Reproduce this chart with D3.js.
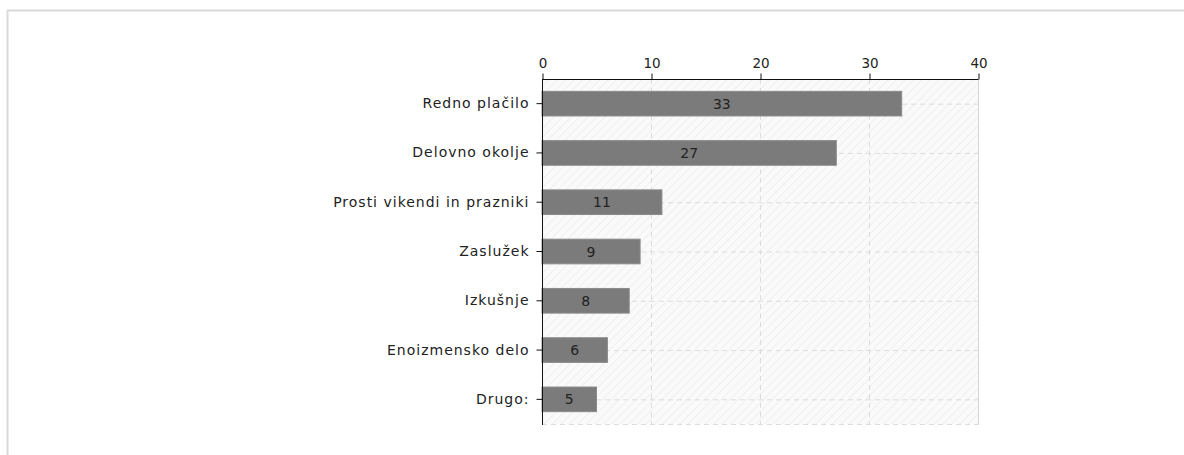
<!DOCTYPE html>
<html>
<head>
<meta charset="utf-8">
<script src="https://cdn.jsdelivr.net/npm/d3@7"></script>
<style>
  html, body { margin: 0; padding: 0; background: #fff; }
  svg { display: block; font-family: "DejaVu Sans", sans-serif; }
</style>
</head>
<body>
<svg id="chart" width="1184" height="455"></svg>
<script>
// Survey answers and counts
const categories = ["Redno plačilo", "Delovno okolje", "Prosti vikendi in prazniki", "Zaslužek", "Izkušnje", "Enoizmensko delo", "Drugo:"];
const counts = [33, 27, 11, 9, 8, 6, 5];
const tickValues = [0, 10, 20, 30, 40];

const svg = d3.select("#chart");
const W = 1184, H = 455;
const plot = { left: 542, right: 978, top: 79, bottom: 424 };

// Outer frame (top and left edges)
svg.append("path")
  .attr("d", `M7.5,${H} L7.5,10.5 L${W},10.5`)
  .attr("fill", "none").attr("stroke", "#d9d9d9").attr("stroke-width", 2);

const x = d3.scaleLinear().domain([0, 40]).range([plot.left, plot.right]);
const y = d3.scaleBand().domain(categories).range([plot.top, plot.bottom]).paddingInner(0.5).paddingOuter(0.25);

// Hatched plot background
const defs = svg.append("defs");
const pat = defs.append("pattern").attr("id", "hatch")
  .attr("patternUnits", "userSpaceOnUse").attr("width", 6).attr("height", 6)
  .attr("patternTransform", "rotate(45)");
pat.append("rect").attr("width", 6).attr("height", 6).attr("fill", "#fafafa");
pat.append("line").attr("x1", 0).attr("y1", 0).attr("x2", 0).attr("y2", 6)
  .attr("stroke", "#ececec").attr("stroke-width", 1.5);

svg.append("rect")
  .attr("x", plot.left).attr("y", plot.top)
  .attr("width", plot.right - plot.left).attr("height", plot.bottom - plot.top)
  .attr("fill", "url(#hatch)");

// Dashed grid
const grid = svg.append("g").attr("stroke", "#dcdcdc").attr("stroke-dasharray", "5,4").attr("fill", "none");
grid.selectAll(".gx").data(tickValues.filter(v => v > 0 && v < 40)).join("line")
  .attr("x1", d => x(d) + 0.5).attr("x2", d => x(d) + 0.5)
  .attr("y1", plot.top).attr("y2", plot.bottom);
grid.selectAll(".gy").data(categories).join("line")
  .attr("x1", plot.left).attr("x2", plot.right)
  .attr("y1", d => y(d) + y.bandwidth() / 2 + 0.5).attr("y2", d => y(d) + y.bandwidth() / 2 + 0.5);
grid.append("line")
  .attr("x1", plot.left).attr("x2", plot.right)
  .attr("y1", plot.bottom + 0.5).attr("y2", plot.bottom + 0.5);
svg.append("line")
  .attr("x1", plot.right + 0.5).attr("x2", plot.right + 0.5)
  .attr("y1", plot.top).attr("y2", plot.bottom + 1)
  .attr("stroke", "#d8d8d8");

// Bars
svg.append("g").selectAll("rect").data(counts).join("rect")
  .attr("x", x(0))
  .attr("y", (d, i) => y(categories[i]))
  .attr("width", d => x(d) - x(0))
  .attr("height", y.bandwidth())
  .attr("fill", "#7b7b7b")
  .attr("stroke", "#8a8a8a").attr("stroke-width", 1);

// Value labels
svg.append("g").selectAll("text").data(counts).join("text")
  .attr("x", d => (x(0) + x(d)) / 2)
  .attr("y", (d, i) => y(categories[i]) + y.bandwidth() / 2)
  .attr("dy", "0.36em")
  .attr("text-anchor", "middle")
  .attr("font-size", 14).attr("fill", "#222")
  .text(d => d);

// Top axis
const xAxis = svg.append("g").attr("transform", `translate(0.5,${plot.top + 0.5})`)
  .call(d3.axisTop(x).tickValues(tickValues).tickSize(6).tickPadding(6));
xAxis.select(".domain").attr("stroke", "#111").attr("d", `M${plot.left},0H${plot.right}`);
xAxis.selectAll(".tick line").attr("stroke", "#111");
xAxis.selectAll(".tick text").attr("font-size", 13.5).attr("fill", "#222")
  .attr("font-family", "DejaVu Sans, sans-serif");

// Left axis
const yAxis = svg.append("g").attr("transform", `translate(${plot.left + 0.5},0)`)
  .call(d3.axisLeft(y).tickSize(6).tickPadding(7));
yAxis.select(".domain").attr("stroke", "#111").attr("d", `M0,${plot.top}V${plot.bottom + 1}`);
yAxis.selectAll(".tick line").attr("stroke", "#111");
yAxis.selectAll(".tick text").attr("font-size", 14).attr("letter-spacing", 1.0).attr("fill", "#222")
  .attr("font-family", "DejaVu Sans, sans-serif");
</script>
</body>
</html>
